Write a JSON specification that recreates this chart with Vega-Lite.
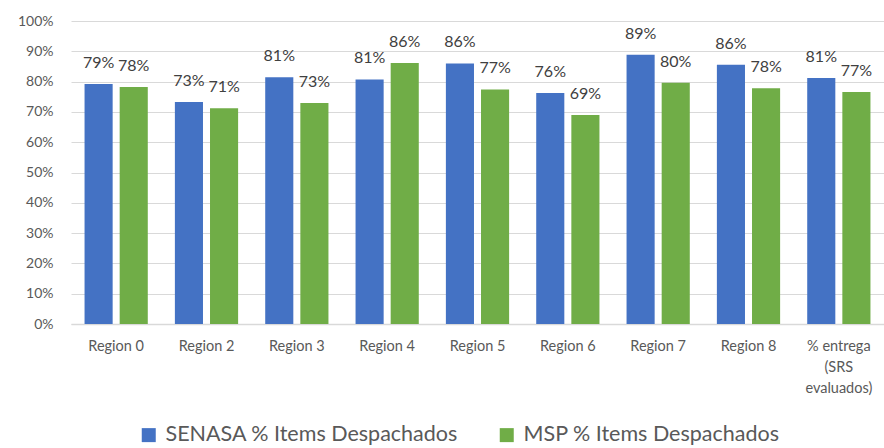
{
  "$schema": "https://vega.github.io/schema/vega-lite/v6.json",
  "autosize": {"type": "none"},
  "padding": {"left": 71, "top": 21, "right": 0, "bottom": 124},
  "width": 813,
  "height": 303,
  "background": "white",
  "config": {
    "view": {"stroke": null},
    "font": "Lato",
    "text": {"font": "Lato"}
  },
  "data": {
    "values": [
      {"region": "Region 0", "series": "SENASA % Items Despachados", "value": 0.792},
      {"region": "Region 0", "series": "MSP % Items Despachados", "value": 0.782},
      {"region": "Region 2", "series": "SENASA % Items Despachados", "value": 0.733},
      {"region": "Region 2", "series": "MSP % Items Despachados", "value": 0.712},
      {"region": "Region 3", "series": "SENASA % Items Despachados", "value": 0.814},
      {"region": "Region 3", "series": "MSP % Items Despachados", "value": 0.729},
      {"region": "Region 4", "series": "SENASA % Items Despachados", "value": 0.807},
      {"region": "Region 4", "series": "MSP % Items Despachados", "value": 0.861},
      {"region": "Region 5", "series": "SENASA % Items Despachados", "value": 0.86},
      {"region": "Region 5", "series": "MSP % Items Despachados", "value": 0.774},
      {"region": "Region 6", "series": "SENASA % Items Despachados", "value": 0.762},
      {"region": "Region 6", "series": "MSP % Items Despachados", "value": 0.69},
      {"region": "Region 7", "series": "SENASA % Items Despachados", "value": 0.889},
      {"region": "Region 7", "series": "MSP % Items Despachados", "value": 0.796},
      {"region": "Region 8", "series": "SENASA % Items Despachados", "value": 0.856},
      {"region": "Region 8", "series": "MSP % Items Despachados", "value": 0.778},
      {"region": "% entrega (SRS evaluados)", "series": "SENASA % Items Despachados", "value": 0.812},
      {"region": "% entrega (SRS evaluados)", "series": "MSP % Items Despachados", "value": 0.766}
    ]
  },
  "encoding": {
    "x": {
      "field": "region",
      "type": "nominal",
      "sort": null,
      "scale": {"paddingInner": 0.3, "paddingOuter": 0.15},
      "axis": {
        "title": null,
        "labelAngle": 0,
        "labelFontSize": 14.5,
        "labelColor": "#595959",
        "labelPadding": 15,
        "labelLineHeight": 21,
        "ticks": false,
        "domainColor": "#d9d9d9",
        "domainWidth": 1.5,
        "labelExpr": "datum.value == '% entrega (SRS evaluados)' ? ['% entrega', '(SRS', 'evaluados)'] : datum.value"
      }
    },
    "xOffset": {
      "field": "series",
      "type": "nominal",
      "sort": ["SENASA % Items Despachados", "MSP % Items Despachados"],
      "scale": {"paddingInner": 0.2, "paddingOuter": 0}
    },
    "y": {
      "field": "value",
      "type": "quantitative",
      "scale": {"domain": [0, 1]},
      "axis": {
        "title": null,
        "values": [0, 0.1, 0.2, 0.3, 0.4, 0.5, 0.6, 0.7, 0.8, 0.9, 1],
        "format": ".0%",
        "labelFontSize": 14,
        "labelColor": "#595959",
        "labelPadding": 18,
        "ticks": false,
        "domain": false,
        "gridColor": "#d9d9d9",
        "gridWidth": 1
      }
    }
  },
  "layer": [
    {
      "mark": {"type": "bar"},
      "encoding": {
        "color": {
          "field": "series",
          "type": "nominal",
          "sort": ["SENASA % Items Despachados", "MSP % Items Despachados"],
          "scale": {"range": ["#4472C4", "#70AD47"]},
          "legend": {
            "title": null,
            "orient": "none",
            "direction": "horizontal",
            "legendX": 67,
            "legendY": 403,
            "padding": 0,
            "symbolType": "square",
            "symbolSize": 196,
            "symbolStrokeWidth": 0,
            "symbolOpacity": 1,
            "labelFontSize": 21.5,
            "labelColor": "#595959",
            "labelOffset": 6,
            "labelLimit": 400,
            "columnPadding": 37
          }
        }
      }
    },
    {
      "mark": {"type": "text", "dy": -21, "fontSize": 16, "color": "#404040", "baseline": "middle"},
      "encoding": {
        "text": {"field": "value", "type": "quantitative", "format": ".0%"}
      }
    }
  ]
}
